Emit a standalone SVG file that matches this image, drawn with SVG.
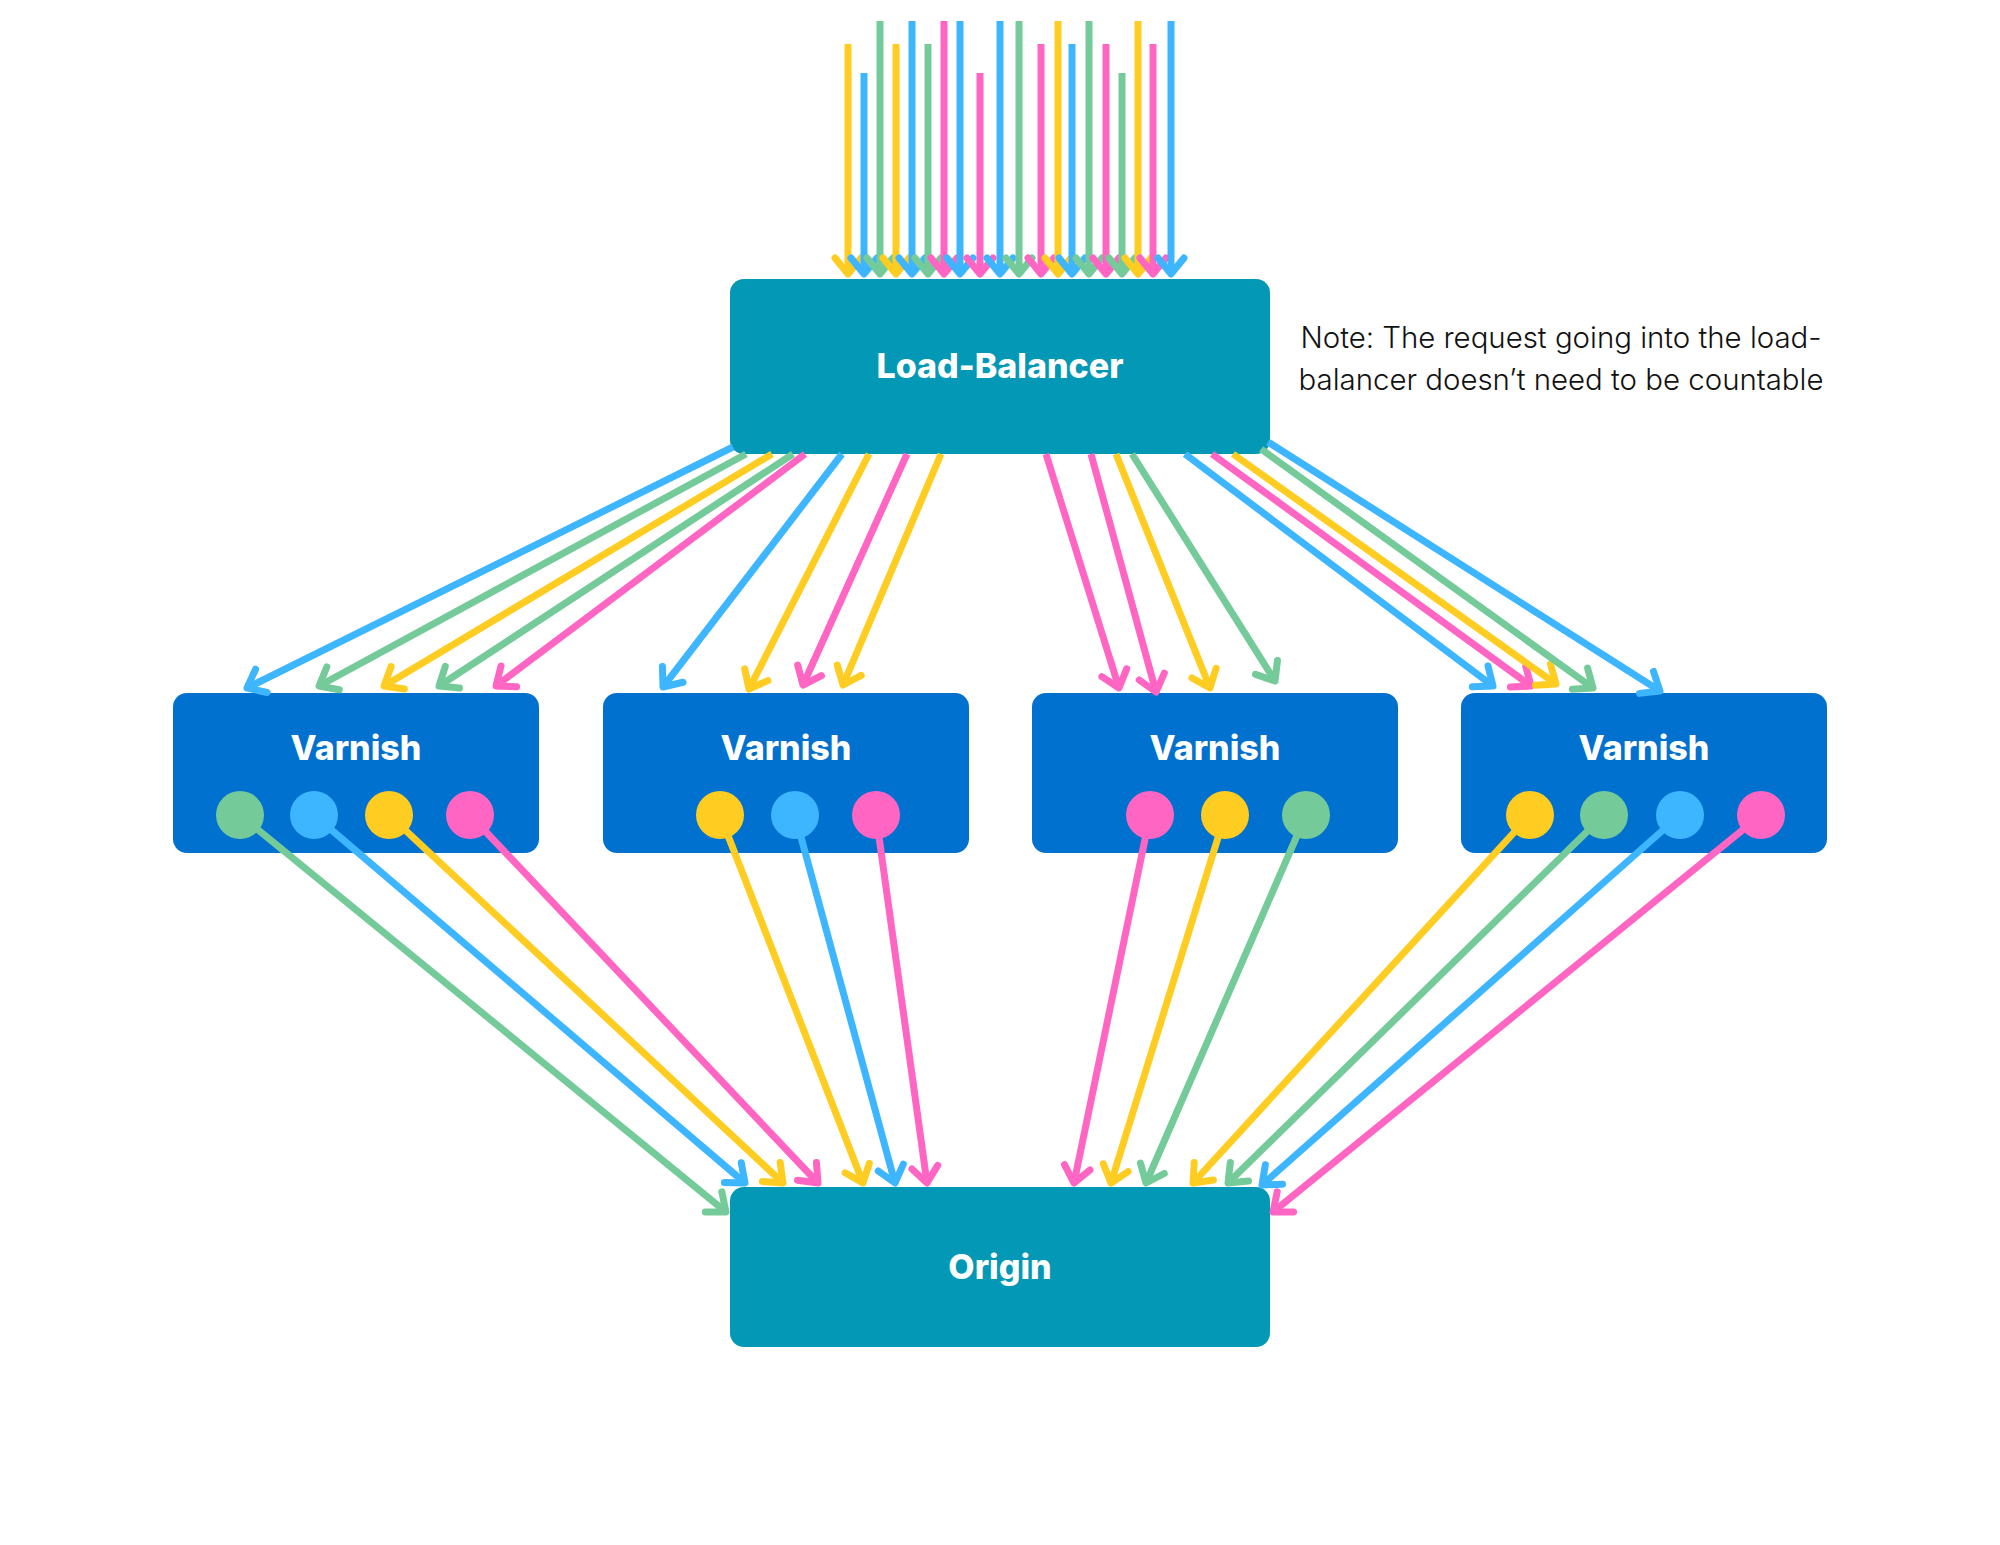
<svg xmlns="http://www.w3.org/2000/svg" width="2000" height="1545" viewBox="0 0 2000 1545">
<style>
.bg{fill:#ffffff}
.lb{fill:#0398B5}
.vb{fill:#0071CE}
.t{font-family:Inter,"Noto Sans","Liberation Sans",sans-serif;font-weight:800;font-size:34px;fill:#ffffff;text-anchor:middle}
.note{font-family:Inter,"Noto Sans","Liberation Sans",sans-serif;font-weight:300;font-size:29.4px;fill:#111111;text-anchor:middle}
.c{fill:none;stroke-width:7;stroke-linecap:butt}
.y{stroke:#FFCC22;marker-end:url(#ah-y)}
.b{stroke:#3DB6FF;marker-end:url(#ah-b)}
.g{stroke:#74CB99;marker-end:url(#ah-g)}
.p{stroke:#FF66C4;marker-end:url(#ah-p)}
.fy{fill:#FFCC22}.fb{fill:#3DB6FF}.fg{fill:#74CB99}.fp{fill:#FF66C4}
.h{fill:none;stroke-width:7;stroke-linecap:round;stroke-linejoin:round}
</style>
<defs>
<marker id="ah-y" markerUnits="userSpaceOnUse" orient="auto" overflow="visible" markerWidth="1" markerHeight="1"><path class="h" d="M-16,-13 L0,0 L-16,13" stroke="#FFCC22"/></marker>
<marker id="ah-b" markerUnits="userSpaceOnUse" orient="auto" overflow="visible" markerWidth="1" markerHeight="1"><path class="h" d="M-16,-13 L0,0 L-16,13" stroke="#3DB6FF"/></marker>
<marker id="ah-g" markerUnits="userSpaceOnUse" orient="auto" overflow="visible" markerWidth="1" markerHeight="1"><path class="h" d="M-16,-13 L0,0 L-16,13" stroke="#74CB99"/></marker>
<marker id="ah-p" markerUnits="userSpaceOnUse" orient="auto" overflow="visible" markerWidth="1" markerHeight="1"><path class="h" d="M-16,-13 L0,0 L-16,13" stroke="#FF66C4"/></marker>
</defs>
<rect class="bg" x="0" y="0" width="2000" height="1545"/>

<g id="load-balancer">
<rect class="lb" x="730" y="279" width="540" height="175" rx="14"/>
<text class="t" x="1000" y="378">Load-Balancer</text>
</g>

<g id="note">
<text class="note" x="1561" y="348">Note: The request going into the load-</text>
<text class="note" x="1561" y="390">balancer doesn’t need to be countable</text>
</g>

<g id="varnish-1">
<rect class="vb" x="173" y="693" width="366" height="160" rx="14"/>
<text class="t" x="356" y="760">Varnish</text>
<circle class="fg" cx="240" cy="815" r="24"/>
<circle class="fb" cx="314" cy="815" r="24"/>
<circle class="fy" cx="389" cy="815" r="24"/>
<circle class="fp" cx="470" cy="815" r="24"/>
</g>

<g id="varnish-2">
<rect class="vb" x="603" y="693" width="366" height="160" rx="14"/>
<text class="t" x="786" y="760">Varnish</text>
<circle class="fy" cx="720" cy="815" r="24"/>
<circle class="fb" cx="795" cy="815" r="24"/>
<circle class="fp" cx="876" cy="815" r="24"/>
</g>

<g id="varnish-3">
<rect class="vb" x="1032" y="693" width="366" height="160" rx="14"/>
<text class="t" x="1215" y="760">Varnish</text>
<circle class="fp" cx="1150" cy="815" r="24"/>
<circle class="fy" cx="1225" cy="815" r="24"/>
<circle class="fg" cx="1306" cy="815" r="24"/>
</g>

<g id="varnish-4">
<rect class="vb" x="1461" y="693" width="366" height="160" rx="14"/>
<text class="t" x="1644" y="760">Varnish</text>
<circle class="fy" cx="1530" cy="815" r="24"/>
<circle class="fg" cx="1604" cy="815" r="24"/>
<circle class="fb" cx="1680" cy="815" r="24"/>
<circle class="fp" cx="1761" cy="815" r="24"/>
</g>

<g id="origin">
<rect class="lb" x="730" y="1187" width="540" height="160" rx="14"/>
<text class="t" x="1000" y="1279">Origin</text>
</g>

<g id="connectors">
<!-- incoming requests -->
<path class="c y" d="M848,44 L848,274"/>
<path class="c b" d="M864,73 L864,274"/>
<path class="c g" d="M880,21 L880,274"/>
<path class="c y" d="M896,44 L896,274"/>
<path class="c b" d="M912,21 L912,274"/>
<path class="c g" d="M928,44 L928,274"/>
<path class="c p" d="M944,21 L944,274"/>
<path class="c b" d="M960,21 L960,274"/>
<path class="c p" d="M980,73 L980,274"/>
<path class="c b" d="M1000,21 L1000,274"/>
<path class="c g" d="M1019,21 L1019,274"/>
<path class="c p" d="M1041,44 L1041,274"/>
<path class="c y" d="M1058,21 L1058,274"/>
<path class="c b" d="M1072,44 L1072,274"/>
<path class="c g" d="M1089,21 L1089,274"/>
<path class="c p" d="M1106,44 L1106,274"/>
<path class="c g" d="M1122,73 L1122,274"/>
<path class="c y" d="M1138,21 L1138,274"/>
<path class="c p" d="M1153,44 L1153,274"/>
<path class="c b" d="M1171,21 L1171,274"/>
<!-- load-balancer to varnish -->
<path class="c b" d="M733,447 L247,688"/>
<path class="c g" d="M746,454 L319,686"/>
<path class="c y" d="M772,454 L384,686"/>
<path class="c g" d="M793,454 L439,686"/>
<path class="c p" d="M805,454 L496,686"/>
<path class="c b" d="M842,454 L663,687"/>
<path class="c y" d="M869,454 L749,689"/>
<path class="c p" d="M907,454 L803,685"/>
<path class="c y" d="M941,454 L843,685"/>
<path class="c p" d="M1046,454 L1119,688"/>
<path class="c p" d="M1091,454 L1156,692"/>
<path class="c y" d="M1116,454 L1210,688"/>
<path class="c g" d="M1132,454 L1275,681"/>
<path class="c b" d="M1185,454 L1493,686"/>
<path class="c p" d="M1212,454 L1531,686"/>
<path class="c y" d="M1233,454 L1556,684"/>
<path class="c g" d="M1261,449 L1593,688"/>
<path class="c b" d="M1268,442 L1660,691"/>
<!-- varnish to origin -->
<path class="c g" d="M240,815 L726,1212"/>
<path class="c b" d="M314,815 L745,1183"/>
<path class="c y" d="M389,815 L783,1183"/>
<path class="c p" d="M470,815 L818,1183"/>
<path class="c y" d="M720,815 L863,1183"/>
<path class="c b" d="M795,815 L895,1183"/>
<path class="c p" d="M876,815 L927,1183"/>
<path class="c p" d="M1150,815 L1074,1183"/>
<path class="c y" d="M1225,815 L1111,1183"/>
<path class="c g" d="M1306,815 L1146,1183"/>
<path class="c y" d="M1530,815 L1193,1183"/>
<path class="c g" d="M1604,815 L1228,1183"/>
<path class="c b" d="M1680,815 L1262,1185"/>
<path class="c p" d="M1761,815 L1273,1212"/>
</g>
</svg>
